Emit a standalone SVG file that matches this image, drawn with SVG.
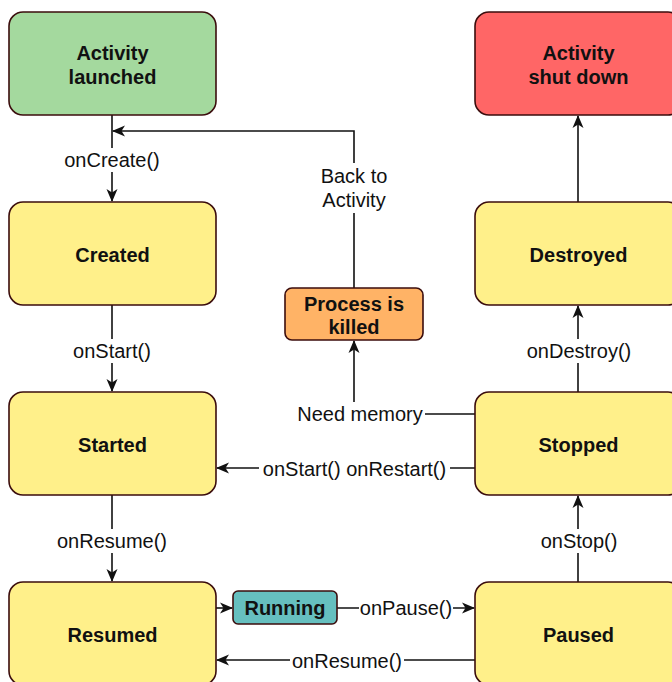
<svg xmlns="http://www.w3.org/2000/svg" width="672" height="682" viewBox="0 0 672 682">
<style>
.node rect{stroke:#3b0d0d;stroke-width:1.6}
.nt{font-family:"Liberation Sans",Arial,sans-serif;font-weight:bold;font-size:20px;fill:#111;text-anchor:middle;dominant-baseline:central}
.lt{font-family:"Liberation Sans",Arial,sans-serif;font-size:20px;fill:#111;text-anchor:middle;dominant-baseline:central}
.edge{fill:none;stroke:#111;stroke-width:1.6}
.bg{fill:#fff}
</style>
<defs>
<marker id="arr" viewBox="0 0 13 13" refX="12" refY="6.5" markerWidth="13" markerHeight="13" markerUnits="userSpaceOnUse" orient="auto">
<path d="M0,1 L13,6.5 L0,12 L3.5,6.5 z" fill="#111"/>
</marker>
</defs>
<rect width="672" height="682" fill="#fff"/>
<g id="connectors">
<path class="edge" d="M112,115 V201" marker-end="url(#arr)"/>
<path class="edge" d="M112,305 V391" marker-end="url(#arr)"/>
<path class="edge" d="M112,495 V581" marker-end="url(#arr)"/>
<path class="edge" d="M216,608 H232" marker-end="url(#arr)"/>
<path class="edge" d="M337,608 H474" marker-end="url(#arr)"/>
<path class="edge" d="M475,660 H217" marker-end="url(#arr)"/>
<path class="edge" d="M578,582 V496" marker-end="url(#arr)"/>
<path class="edge" d="M475,468 H217" marker-end="url(#arr)"/>
<path class="edge" d="M475,414 H354 V341" marker-end="url(#arr)"/>
<path class="edge" d="M578,392 V306" marker-end="url(#arr)"/>
<path class="edge" d="M578,202 V116" marker-end="url(#arr)"/>
<path class="edge" d="M354,288 V131 H113" marker-end="url(#arr)"/>
<rect class="bg" x="64" y="148" width="96" height="24"/>
<text class="lt" x="112" y="160">onCreate()</text>
<rect class="bg" x="72" y="339" width="80" height="24"/>
<text class="lt" x="112" y="351">onStart()</text>
<rect class="bg" x="55" y="529" width="114" height="24"/>
<text class="lt" x="112" y="541">onResume()</text>
<rect class="bg" x="359" y="596" width="94" height="24"/>
<text class="lt" x="406" y="608">onPause()</text>
<rect class="bg" x="290" y="648" width="114" height="24"/>
<text class="lt" x="347" y="661">onResume()</text>
<rect class="bg" x="541" y="529" width="76" height="24"/>
<text class="lt" x="579" y="541">onStop()</text>
<rect class="bg" x="259" y="456" width="191" height="24"/>
<text class="lt" x="354.5" y="469">onStart() onRestart()</text>
<rect class="bg" x="295" y="402" width="130" height="24"/>
<text class="lt" x="360" y="414">Need memory</text>
<rect class="bg" x="524" y="339" width="110" height="24"/>
<text class="lt" x="579" y="351">onDestroy()</text>
<rect class="bg" x="318" y="163" width="72" height="50"/>
<text class="lt" x="354" y="176">Back to</text>
<text class="lt" x="354" y="200">Activity</text>
</g>
<g id="launched" class="node">
<rect x="9" y="12" width="207" height="103" rx="14" fill="#a4d99e"/>
<text class="nt" x="112.5" y="53">Activity</text>
<text class="nt" x="112.5" y="77">launched</text>
</g>
<g id="shutdown" class="node">
<rect x="475" y="12" width="207" height="103" rx="14" fill="#ff6666"/>
<text class="nt" x="578.5" y="53">Activity</text>
<text class="nt" x="578.5" y="77">shut down</text>
</g>
<g id="created" class="node">
<rect x="9" y="202" width="207" height="103" rx="14" fill="#fff08a"/>
<text class="nt" x="112.5" y="255">Created</text>
</g>
<g id="destroyed" class="node">
<rect x="475" y="202" width="207" height="103" rx="14" fill="#fff08a"/>
<text class="nt" x="578.5" y="255">Destroyed</text>
</g>
<g id="killed" class="node">
<rect x="285" y="288" width="138" height="52" rx="7" fill="#ffb366"/>
<text class="nt" x="354" y="304">Process is</text>
<text class="nt" x="354" y="327">killed</text>
</g>
<g id="started" class="node">
<rect x="9" y="392" width="207" height="103" rx="14" fill="#fff08a"/>
<text class="nt" x="112.5" y="445">Started</text>
</g>
<g id="stopped" class="node">
<rect x="475" y="392" width="207" height="103" rx="14" fill="#fff08a"/>
<text class="nt" x="578.5" y="445">Stopped</text>
</g>
<g id="resumed" class="node">
<rect x="9" y="582" width="207" height="103" rx="14" fill="#fff08a"/>
<text class="nt" x="112.5" y="635">Resumed</text>
</g>
<g id="paused" class="node">
<rect x="475" y="582" width="207" height="103" rx="14" fill="#fff08a"/>
<text class="nt" x="578.5" y="635">Paused</text>
</g>
<g id="running" class="node">
<rect x="233" y="591" width="104" height="33" rx="5" fill="#66bfbf"/>
<text class="nt" x="285" y="608">Running</text>
</g>
</svg>
